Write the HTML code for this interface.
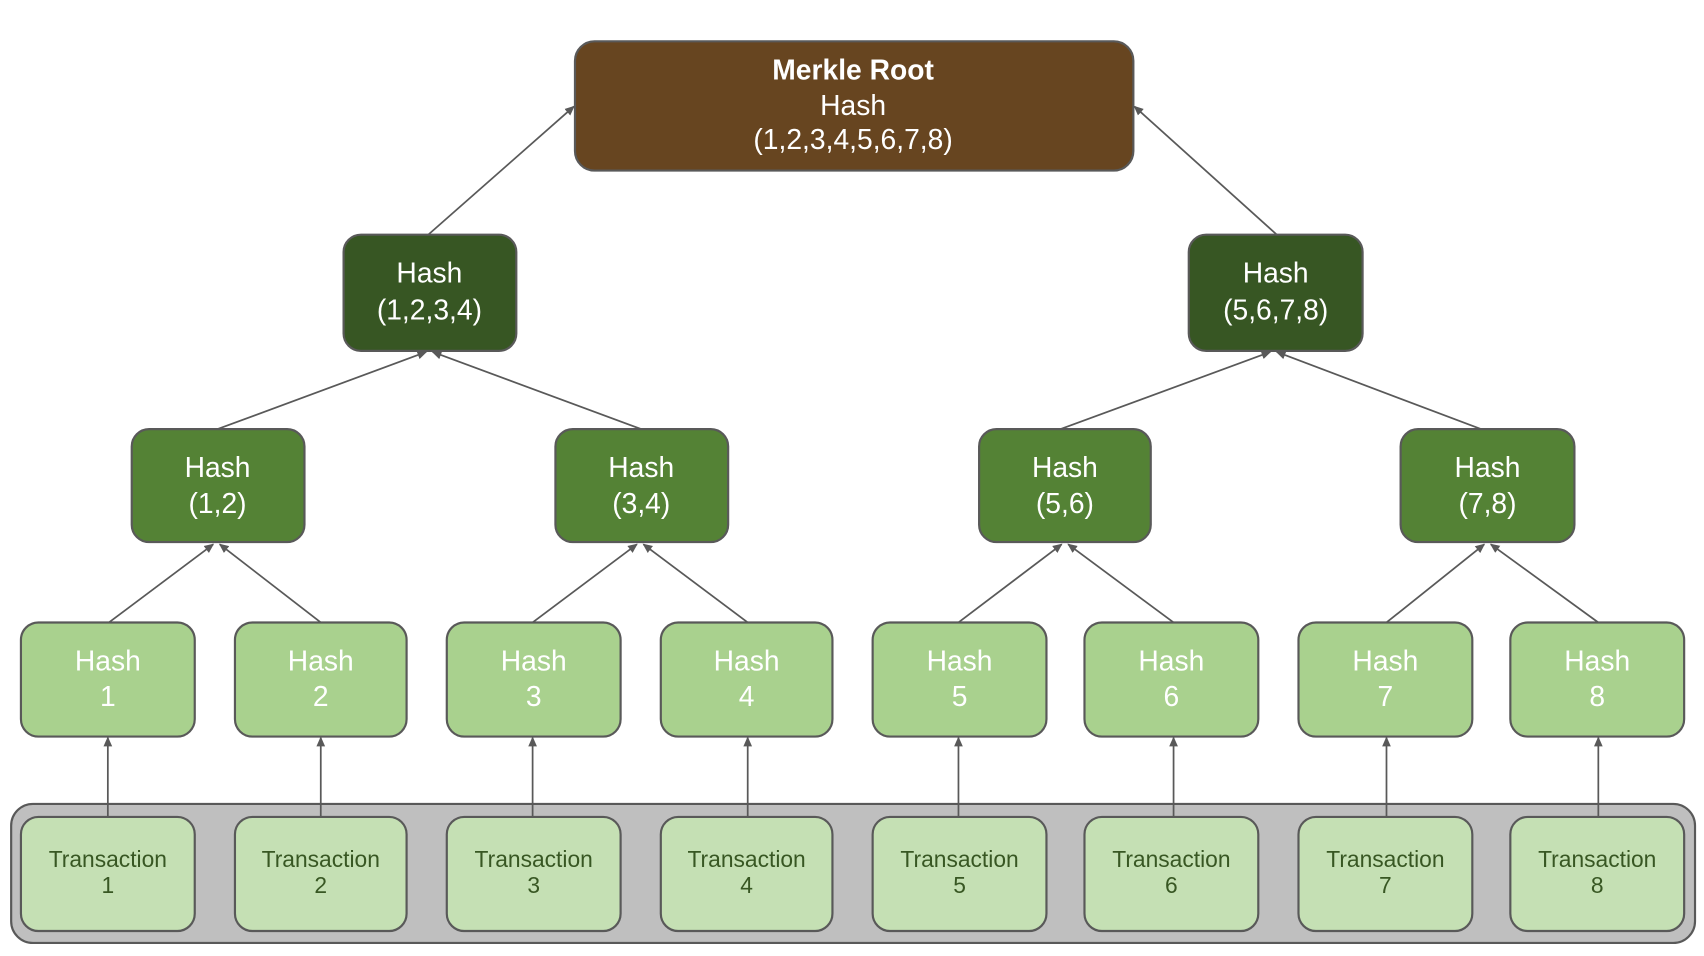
<!DOCTYPE html>
<html><head><meta charset="utf-8"><style>html,body{margin:0;padding:0;background:#fff}svg{display:block}</style></head><body>
<svg width="1704" height="956" viewBox="0 0 1568 880" xmlns="http://www.w3.org/2000/svg" font-family="Liberation Sans, sans-serif" text-anchor="middle">
<defs><marker id="a" markerWidth="10" markerHeight="10" refX="8" refY="5" orient="auto" markerUnits="userSpaceOnUse"><path d="M0,1 L9,5 L0,9 z" fill="#595959"/></marker></defs>
<g stroke="#595959" stroke-width="1.6" fill="none" marker-end="url(#a)">
<line x1="394" y1="216" x2="528" y2="98"/>
<line x1="1175" y1="216" x2="1044" y2="98"/>
<line x1="200" y1="395" x2="392" y2="324"/>
<line x1="590" y1="395" x2="398" y2="324"/>
<line x1="976" y1="395" x2="1169" y2="324"/>
<line x1="1363" y1="395" x2="1175" y2="324"/>
<line x1="100" y1="573" x2="196" y2="501"/>
<line x1="295" y1="573" x2="202" y2="501"/>
<line x1="490" y1="573" x2="586" y2="501"/>
<line x1="688" y1="573" x2="592" y2="501"/>
<line x1="882" y1="573" x2="977" y2="501"/>
<line x1="1080" y1="573" x2="983" y2="501"/>
<line x1="1276" y1="573" x2="1366" y2="501"/>
<line x1="1471" y1="573" x2="1372" y2="501"/>
</g>
<rect x="10" y="740" width="1550" height="128" rx="20" fill="#bfbfbf" stroke="#595959" stroke-width="2"/>
<g stroke="#595959" stroke-width="1.6" marker-end="url(#a)">
<line x1="99" y1="752" x2="99" y2="679"/><line x1="295" y1="752" x2="295" y2="679"/>
<line x1="490" y1="752" x2="490" y2="679"/><line x1="688" y1="752" x2="688" y2="679"/>
<line x1="882" y1="752" x2="882" y2="679"/><line x1="1080" y1="752" x2="1080" y2="679"/>
<line x1="1276" y1="752" x2="1276" y2="679"/><line x1="1471" y1="752" x2="1471" y2="679"/>
</g>
<g stroke="#595959" stroke-width="2">
<rect x="529" y="38" width="514" height="119" rx="18" fill="#674520"/>
<rect x="316" y="216" width="159" height="107" rx="16" fill="#375623"/>
<rect x="1094" y="216" width="160" height="107" rx="16" fill="#375623"/>
<rect x="121" y="395" width="159" height="104" rx="16" fill="#548235"/>
<rect x="511" y="395" width="159" height="104" rx="16" fill="#548235"/>
<rect x="901" y="395" width="158" height="104" rx="16" fill="#548235"/>
<rect x="1289" y="395" width="160" height="104" rx="16" fill="#548235"/>
<g fill="#a9d18e">
<rect x="19" y="573" width="160" height="105" rx="16"/><rect x="216" y="573" width="158" height="105" rx="16"/>
<rect x="411" y="573" width="160" height="105" rx="16"/><rect x="608" y="573" width="158" height="105" rx="16"/>
<rect x="803" y="573" width="160" height="105" rx="16"/><rect x="998" y="573" width="160" height="105" rx="16"/>
<rect x="1195" y="573" width="160" height="105" rx="16"/><rect x="1390" y="573" width="160" height="105" rx="16"/>
</g>
<g fill="#c5e0b4">
<rect x="19" y="752" width="160" height="105" rx="16"/><rect x="216" y="752" width="158" height="105" rx="16"/>
<rect x="411" y="752" width="160" height="105" rx="16"/><rect x="608" y="752" width="158" height="105" rx="16"/>
<rect x="803" y="752" width="160" height="105" rx="16"/><rect x="998" y="752" width="160" height="105" rx="16"/>
<rect x="1195" y="752" width="160" height="105" rx="16"/><rect x="1390" y="752" width="160" height="105" rx="16"/>
</g>
</g>
<g fill="#fff" font-size="26">
<text x="785" y="73" font-weight="bold">Merkle Root</text>
<text x="785" y="106">Hash</text>
<text x="785" y="137">(1,2,3,4,5,6,7,8)</text>
<text x="395" y="260">Hash</text><text x="395" y="294">(1,2,3,4)</text>
<text x="1174" y="260">Hash</text><text x="1174" y="294">(5,6,7,8)</text>
<text x="200" y="439">Hash</text><text x="200" y="472">(1,2)</text>
<text x="590" y="439">Hash</text><text x="590" y="472">(3,4)</text>
<text x="980" y="439">Hash</text><text x="980" y="472">(5,6)</text>
<text x="1369" y="439">Hash</text><text x="1369" y="472">(7,8)</text>
<text x="99" y="617">Hash</text><text x="99" y="650">1</text>
<text x="295" y="617">Hash</text><text x="295" y="650">2</text>
<text x="491" y="617">Hash</text><text x="491" y="650">3</text>
<text x="687" y="617">Hash</text><text x="687" y="650">4</text>
<text x="883" y="617">Hash</text><text x="883" y="650">5</text>
<text x="1078" y="617">Hash</text><text x="1078" y="650">6</text>
<text x="1275" y="617">Hash</text><text x="1275" y="650">7</text>
<text x="1470" y="617">Hash</text><text x="1470" y="650">8</text>
</g>
<g fill="#385723" font-size="21">
<text x="99" y="798">Transaction</text><text x="99" y="822">1</text>
<text x="295" y="798">Transaction</text><text x="295" y="822">2</text>
<text x="491" y="798">Transaction</text><text x="491" y="822">3</text>
<text x="687" y="798">Transaction</text><text x="687" y="822">4</text>
<text x="883" y="798">Transaction</text><text x="883" y="822">5</text>
<text x="1078" y="798">Transaction</text><text x="1078" y="822">6</text>
<text x="1275" y="798">Transaction</text><text x="1275" y="822">7</text>
<text x="1470" y="798">Transaction</text><text x="1470" y="822">8</text>
</g>
</svg>
</body></html>
